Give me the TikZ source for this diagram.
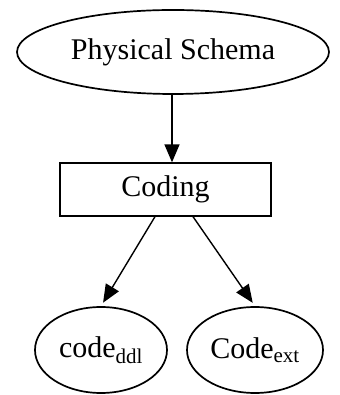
\documentclass[tikz,border=0pt]{standalone}
\usepackage{fontspec}
\setmainfont{Liberation Serif}
\usetikzlibrary{shapes.geometric,arrows.meta}
\begin{document}
\begin{tikzpicture}[x=1pt,y=1pt,
  oval/.style={draw,ellipse,line width=1.7pt,inner sep=0pt},
  procbox/.style={draw,rectangle,line width=1.3pt,inner sep=0pt,minimum width=211pt,minimum height=53pt},
  lbl/.style={font=\fontsize{30}{33}\selectfont},
  flow/.style={line width=1.4pt,-{Triangle[length=18pt,width=15pt]}}]
\useasboundingbox (0,0) rectangle (339,395);
\node[oval,lbl,minimum width=312pt,minimum height=84pt] (schema) at (173,343) {Physical Schema};
\node[procbox,lbl] (coding) at (165.5,205.5) {Coding};
\node[oval,lbl,minimum width=132pt,minimum height=86pt] (ddl) at (101,45) {code\textsubscript{ddl}};
\node[oval,lbl,minimum width=136pt,minimum height=86pt] (ext) at (255,45) {Code\textsubscript{ext}};
\coordinate (s0) at ([xshift=-1pt]schema.south);
\coordinate (s1) at ([xshift=-10.5pt]coding.south);
\coordinate (s2) at ([xshift=27.5pt]coding.south);
\draw[flow] (s0) -- (s0 |- coding.north);
\draw[flow,shorten >=4pt] (s1) -- (ddl.north);
\draw[flow,shorten >=4pt] (s2) -- (ext.north);
\end{tikzpicture}
\end{document}
